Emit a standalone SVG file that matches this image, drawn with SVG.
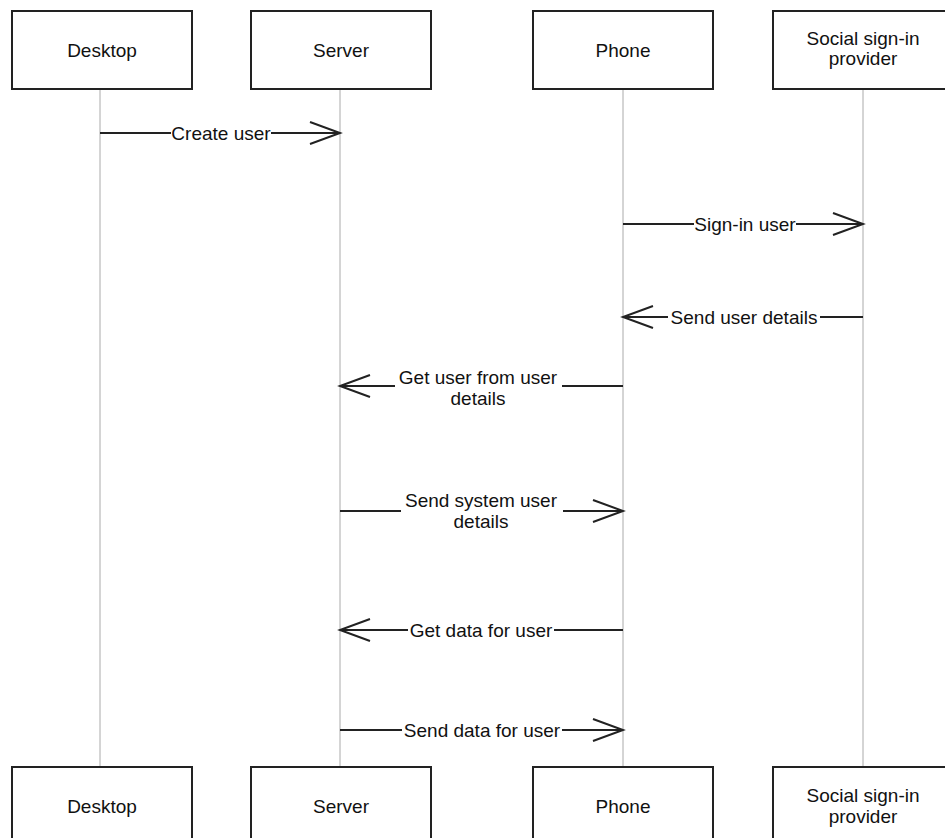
<svg xmlns="http://www.w3.org/2000/svg" width="945" height="838" viewBox="0 0 945 838">
<style>
.box{fill:#fff;stroke:#222;stroke-width:2}
.life{stroke:#aaa;stroke-width:1;fill:none}
.msg{stroke:#222;stroke-width:2;fill:none;marker-end:url(#open)}
.t{font-family:"Liberation Sans",Arial,sans-serif;font-size:19px;fill:#111;text-anchor:middle}
.bg{fill:#fff}
</style>
<defs>
<marker id="open" markerUnits="userSpaceOnUse" markerWidth="34" markerHeight="26" refX="31" refY="12" orient="auto" overflow="visible">
<path d="M1,1 L31,12 L1,23" fill="none" stroke="#222" stroke-width="2"/>
</marker>
</defs>
<g id="lifelines">
<line class="life" x1="100" y1="89" x2="100" y2="767"/>
<line class="life" x1="340" y1="89" x2="340" y2="767"/>
<line class="life" x1="623" y1="89" x2="623" y2="767"/>
<line class="life" x1="863" y1="89" x2="863" y2="767"/>
</g>
<g id="desktop-top"><rect class="box" x="12" y="11" width="180" height="78"/><text class="t" x="102" y="57">Desktop</text></g>
<g id="server-top"><rect class="box" x="251" y="11" width="180" height="78"/><text class="t" x="341" y="57">Server</text></g>
<g id="phone-top"><rect class="box" x="533" y="11" width="180" height="78"/><text class="t" x="623" y="57">Phone</text></g>
<g id="social-top"><rect class="box" x="773" y="11" width="180" height="78"/><text class="t" x="863" y="45">Social sign-in</text><text class="t" x="863" y="65">provider</text></g>
<g id="desktop-bottom"><rect class="box" x="12" y="767" width="180" height="78"/><text class="t" x="102" y="813">Desktop</text></g>
<g id="server-bottom"><rect class="box" x="251" y="767" width="180" height="78"/><text class="t" x="341" y="813">Server</text></g>
<g id="phone-bottom"><rect class="box" x="533" y="767" width="180" height="78"/><text class="t" x="623" y="813">Phone</text></g>
<g id="social-bottom"><rect class="box" x="773" y="767" width="180" height="78"/><text class="t" x="863" y="802">Social sign-in</text><text class="t" x="863" y="823">provider</text></g>
<g id="connectors">
<line class="msg" x1="100" y1="133" x2="340" y2="133"/>
<rect class="bg" x="171" y="122" width="100" height="22"/>
<text class="t" x="221" y="139.5">Create user</text>

<line class="msg" x1="623" y1="224" x2="863" y2="224"/>
<rect class="bg" x="694" y="213" width="102" height="22"/>
<text class="t" x="745" y="230.5">Sign-in user</text>

<line class="msg" x1="863" y1="317" x2="623" y2="317"/>
<rect class="bg" x="668" y="306" width="152" height="22"/>
<text class="t" x="744" y="323.5">Send user details</text>

<line class="msg" x1="623" y1="386" x2="340" y2="386"/>
<rect class="bg" x="395" y="366" width="167" height="44"/>
<text class="t" x="478" y="384">Get user from user</text>
<text class="t" x="478" y="405">details</text>

<line class="msg" x1="340" y1="511" x2="623" y2="511"/>
<rect class="bg" x="401" y="490" width="162" height="44"/>
<text class="t" x="481" y="507">Send system user</text>
<text class="t" x="481" y="528">details</text>

<line class="msg" x1="623" y1="630" x2="340" y2="630"/>
<rect class="bg" x="408" y="619" width="146" height="22"/>
<text class="t" x="481" y="636.5">Get data for user</text>

<line class="msg" x1="340" y1="730" x2="623" y2="730"/>
<rect class="bg" x="402" y="719" width="160" height="22"/>
<text class="t" x="482" y="736.5">Send data for user</text>
</g>
</svg>
